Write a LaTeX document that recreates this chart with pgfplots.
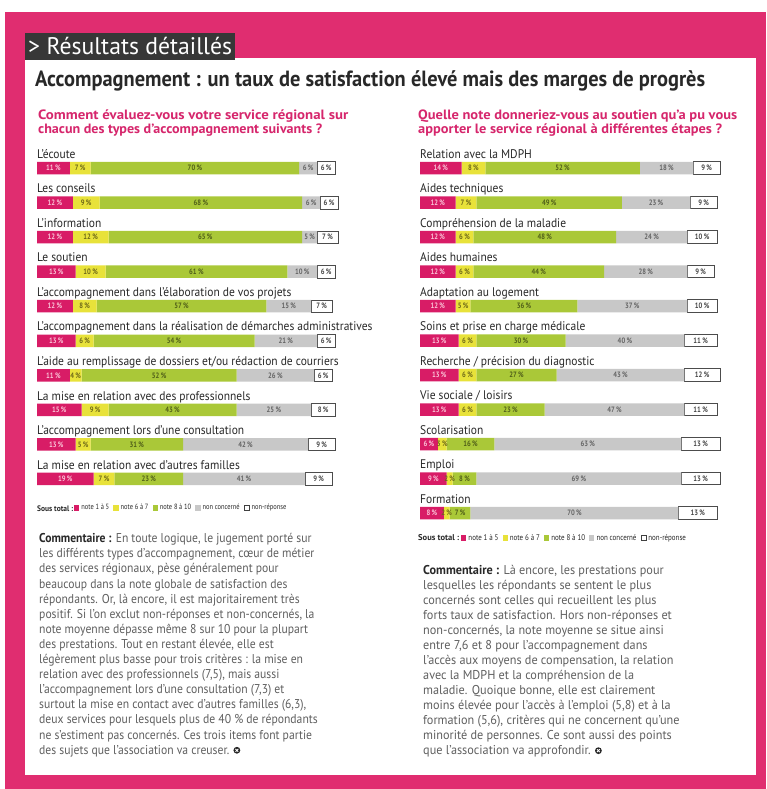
\documentclass[border=0pt]{standalone}
\usepackage{pgfplots}
\pgfplotsset{compat=1.18}
\usepackage{pgfplotstable}
\usepackage{graphicx}
\usepackage{fontspec}
\setmainfont{PT Sans}
\newfontfamily\labfont{PT Sans}[FakeStretch=0.92]
\newfontfamily\txtfont{PT Sans}[FakeStretch=0.91]
\newfontfamily\txtfontR{PT Sans}[FakeStretch=0.955]
\newfontfamily\numfont{PT Sans}[FakeStretch=0.85]

\definecolor{pagepink}{RGB}{224,45,112}
\definecolor{headpink}{RGB}{214,38,108}
\definecolor{barpink}{RGB}{216,28,102}
\definecolor{baryellow}{RGB}{232,226,58}
\definecolor{bargreen}{RGB}{170,200,56}
\definecolor{bargray}{RGB}{200,200,200}
\definecolor{darkbox}{RGB}{55,55,55}
\definecolor{titlegray}{RGB}{40,40,40}
\definecolor{textgray}{RGB}{95,95,95}
\definecolor{pinklab}{RGB}{250,195,215}
\definecolor{yellab}{RGB}{110,105,25}
\definecolor{greenlab}{RGB}{80,95,25}
\definecolor{graylab}{RGB}{100,100,100}
\definecolor{whitelab}{RGB}{70,70,70}

% left chart: rows top (9) to bottom (0)
\pgfplotstableread{
row a b c d e
9 11 7 70 6 6
8 12 9 68 6 6
7 12 12 65 5 7
6 13 10 61 10 6
5 12 8 57 15 7
4 13 6 54 21 6
3 11 4 52 26 6
2 15 9 43 25 8
1 13 5 31 42 9
0 19 7 23 41 9
}\leftdata
% right chart: rows top (10) to bottom (0)
\pgfplotstableread{
row a b c d e
10 14 8 52 18 9
9 12 7 49 23 9
8 12 6 48 24 10
7 12 6 44 28 9
6 12 5 36 37 10
5 13 6 30 40 11
4 13 6 27 43 12
3 13 6 23 47 11
2 6 3 16 63 13
1 9 2 8 69 13
0 8 2 7 70 13
}\rightdata

\newcommand\addmids[1]{%
\pgfplotstablecreatecol[create col/expr={\thisrow{a}/2}]{ma}#1%
\pgfplotstablecreatecol[create col/expr={\thisrow{a}+\thisrow{b}/2}]{mb}#1%
\pgfplotstablecreatecol[create col/expr={\thisrow{a}+\thisrow{b}+\thisrow{c}/2}]{mc}#1%
\pgfplotstablecreatecol[create col/expr={\thisrow{a}+\thisrow{b}+\thisrow{c}+\thisrow{d}/2}]{md}#1%
\pgfplotstablecreatecol[create col/expr={\thisrow{a}+\thisrow{b}+\thisrow{c}+\thisrow{d}+\thisrow{e}/2}]{me}#1%
}
\addmids{\leftdata}
\addmids{\rightdata}

\pgfplotsset{
  bars/.style={xbar stacked, scale only axis, xmin=0, xmax=100, bar width=12.5pt,
    axis line style={draw=none}, major tick length=0pt, xtick=\empty, clip=false,
    yticklabel style={anchor=base west, inner sep=0pt, yshift=9.8pt,
      font=\labfont\fontsize{12.5}{13}\selectfont, text=titlegray},
    legend style={draw=none, fill=none, legend columns=-1, inner sep=0pt,
      font=\numfont\fontsize{7.6}{8}\selectfont, text=titlegray,
      nodes={inner sep=0.6pt},
      /tikz/every odd column/.append style={column sep=1.5pt},
      /tikz/every even column/.append style={column sep=3.5pt}}},
  labs/.style={scale only axis, xmin=0, xmax=100, hide axis, clip=false,
    /pgf/number format/assume math mode=true},
  seg/.style={draw=none, fill=#1,
    legend image code/.code={\fill[#1] (0pt,-2.6pt) rectangle (5.2pt,2.6pt);}},
  segw/.style={draw=black!70, line width=0.6pt, fill=white,
    legend image code/.code={\draw[black!75, line width=0.5pt, fill=white] (0pt,-2.6pt) rectangle (5.2pt,2.6pt);}},
  lab/.style={draw=none, mark=none, point meta=explicit,
    nodes near coords={\pgfmathprintnumber{\pgfplotspointmeta}\,\%},
    every node near coord/.append style={anchor=center, inner sep=0pt, text=#1,
      font=\numfont\bfseries\fontsize{7.8}{8}\selectfont}},
}

\newcommand\stopsym{\tikz[baseline=-0.6ex]{\fill[black!85] (0pt,0pt) circle (3.4pt);
  \draw[white,line width=0.9pt] (-1.4pt,-1.4pt)--(1.4pt,1.4pt) (-1.4pt,1.4pt)--(1.4pt,-1.4pt);}}

\begin{document}
\begin{tikzpicture}
\begin{scope}[x=1pt,y=-1pt]
  \fill[white] (0,0) rectangle (766,789);
  \fill[pagepink] (5,12) rectangle (766,789);
  \fill[white] (25,58) rectangle (756,775);
  \fill[darkbox] (25,33) rectangle (235,60);
  \node[anchor=base west, inner sep=0pt, text=white] at (28,55)
    {\resizebox{204pt}{\height}{\fontsize{24}{24}\selectfont > Résultats détaillés}};
  \node[anchor=base west, inner sep=0pt, text=titlegray] at (35,87)
    {\resizebox{670pt}{\height}{\bfseries\fontsize{22}{22}\selectfont Accompagnement : un taux de satisfaction élevé mais des marges de progrès}};
  % question headings
  \node[anchor=base west, inner sep=0pt, text=headpink] at (38,119.3)
    {\resizebox{310pt}{\height}{\bfseries\fontsize{13.5}{14}\selectfont Comment évaluez-vous votre service régional sur}};
  \node[anchor=base west, inner sep=0pt, text=headpink] at (38,133.8)
    {\resizebox{284pt}{\height}{\bfseries\fontsize{13.5}{14}\selectfont chacun des types d’accompagnement suivants ?}};
  \node[anchor=base west, inner sep=0pt, text=headpink] at (418,119.3)
    {\resizebox{319pt}{\height}{\bfseries\fontsize{13.5}{14}\selectfont Quelle note donneriez-vous au soutien qu’a pu vous}};
  \node[anchor=base west, inner sep=0pt, text=headpink] at (418,133.8)
    {\resizebox{304pt}{\height}{\bfseries\fontsize{13.5}{14}\selectfont apporter le service régional à différentes étapes ?}};
  % legends prefix
  \node[anchor=west, inner sep=0pt, text=titlegray] at (37,509)
    {\resizebox{36pt}{\height}{\numfont\bfseries\fontsize{8}{8}\selectfont Sous total :}};
  \node[anchor=west, inner sep=0pt, text=titlegray] at (418,538)
    {\resizebox{41pt}{\height}{\numfont\bfseries\fontsize{8.4}{8}\selectfont Sous total :}};
  % comments
  \foreach \l [count=\i] in {
    {\textcolor{titlegray}{\bfseries Commentaire :} En toute logique, le jugement porté sur},
    {les différents types d’accompagnement, cœur de métier},
    {des services régionaux, pèse généralement pour},
    {beaucoup dans la note globale de satisfaction des},
    {répondants. Or, là encore, il est majoritairement très},
    {positif. Si l’on exclut non-réponses et non-concernés, la},
    {note moyenne dépasse même 8 sur 10 pour la plupart},
    {des prestations. Tout en restant élevée, elle est},
    {légèrement plus basse pour trois critères : la mise en},
    {relation avec des professionnels (7,5), mais aussi},
    {l’accompagnement lors d’une consultation (7,3) et},
    {surtout la mise en contact avec d’autres familles (6,3),},
    {deux services pour lesquels plus de 40 \% de répondants},
    {ne s’estiment pas concernés. Ces trois items font partie},
    {des sujets que l’association va creuser. \stopsym}}
    \node[anchor=base west, inner sep=0pt, text=textgray,
      font=\txtfont\fontsize{12.8}{15}\selectfont] at (39,{542.7+15.1*(\i-1)}) {\l};
  \foreach \l [count=\i] in {
    {\textcolor{titlegray}{\bfseries Commentaire :} Là encore, les prestations pour},
    {lesquelles les répondants se sentent le plus},
    {concernés sont celles qui recueillent les plus},
    {forts taux de satisfaction. Hors non-réponses et},
    {non-concernés, la note moyenne se situe ainsi},
    {entre 7,6 et 8 pour l’accompagnement dans},
    {l’accès aux moyens de compensation, la relation},
    {avec la MDPH et la compréhension de la},
    {maladie. Quoique bonne, elle est clairement},
    {moins élevée pour l’accès à l’emploi (5,8) et à la},
    {formation (5,6), critères qui ne concernent qu’une},
    {minorité de personnes. Ce sont aussi des points},
    {que l’association va approfondir. \stopsym}}
    \node[anchor=base west, inner sep=0pt, text=textgray,
      font=\txtfontR\fontsize{12.8}{15}\selectfont] at (423,{574.5+15*(\i-1)}) {\l};
\end{scope}

% ---------- left chart ----------
\begin{axis}[bars, at={(37pt,-150.75pt)}, anchor=north west,
  width=298pt, height=345.5pt, ymin=-0.5, ymax=9.5,
  ytick={0,...,9},
  yticklabels={La mise en relation avec d’autres familles,
    L’accompagnement lors d’une consultation,
    La mise en relation avec des professionnels,
    L’aide au remplissage de dossiers et/ou rédaction de courriers,
    L’accompagnement dans la réalisation de démarches administratives,
    L’accompagnement dans l’élaboration de vos projets,
    Le soutien, L’information, Les conseils, L’écoute},
  legend style={at={(0.124,-0.034)}, anchor=west}]
  \addplot[seg=barpink] table[x=a, y=row] {\leftdata};
  \addplot[seg=baryellow] table[x=b, y=row] {\leftdata};
  \addplot[seg=bargreen] table[x=c, y=row] {\leftdata};
  \addplot[seg=bargray] table[x=d, y=row] {\leftdata};
  \addplot[segw] table[x=e, y=row] {\leftdata};
  \legend{note 1 à 5, note 6 à 7, note 8 à 10, non concerné, non-réponse}
\end{axis}
\begin{axis}[labs, at={(37pt,-150.75pt)}, anchor=north west,
  width=298pt, height=345.5pt, ymin=-0.5, ymax=9.5]
  \addplot[lab=pinklab] table[x=ma, y=row, meta=a] {\leftdata};
  \addplot[lab=yellab] table[x=mb, y=row, meta=b] {\leftdata};
  \addplot[lab=greenlab] table[x=mc, y=row, meta=c] {\leftdata};
  \addplot[lab=graylab] table[x=md, y=row, meta=d] {\leftdata};
  \addplot[lab=whitelab] table[x=me, y=row, meta=e] {\leftdata};
\end{axis}

% ---------- right chart ----------
\begin{axis}[bars, at={(420pt,-150.75pt)}, anchor=north west,
  width=297pt, height=379.5pt, ymin=-0.5, ymax=10.5,
  ytick={0,...,10},
  yticklabels={Formation, Emploi, Scolarisation, Vie sociale / loisirs,
    Recherche / précision du diagnostic, Soins et prise en charge médicale,
    Adaptation au logement, Aides humaines, Compréhension de la maladie,
    Aides techniques, Relation avec la MDPH},
  legend style={at={(0.138,-0.0204)}, anchor=west, font=\numfont\fontsize{8.2}{9}\selectfont}]
  \addplot[seg=barpink] table[x=a, y=row] {\rightdata};
  \addplot[seg=baryellow] table[x=b, y=row] {\rightdata};
  \addplot[seg=bargreen] table[x=c, y=row] {\rightdata};
  \addplot[seg=bargray] table[x=d, y=row] {\rightdata};
  \addplot[segw] table[x=e, y=row] {\rightdata};
  \legend{note 1 à 5, note 6 à 7, note 8 à 10, non concerné, non-réponse}
\end{axis}
\begin{axis}[labs, at={(420pt,-150.75pt)}, anchor=north west,
  width=297pt, height=379.5pt, ymin=-0.5, ymax=10.5]
  \addplot[lab=pinklab] table[x=ma, y=row, meta=a] {\rightdata};
  \addplot[lab=yellab] table[x=mb, y=row, meta=b] {\rightdata};
  \addplot[lab=greenlab] table[x=mc, y=row, meta=c] {\rightdata};
  \addplot[lab=graylab] table[x=md, y=row, meta=d] {\rightdata};
  \addplot[lab=whitelab] table[x=me, y=row, meta=e] {\rightdata};
\end{axis}

\pgfresetboundingbox
\useasboundingbox (0pt,0pt) rectangle (766pt,-789pt);
\end{tikzpicture}
\end{document}
